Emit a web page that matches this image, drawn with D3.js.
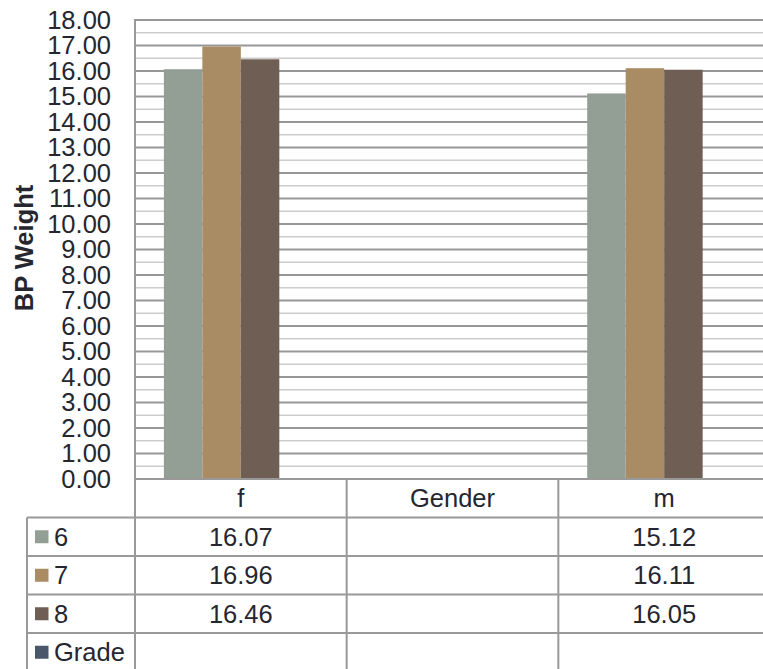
<!DOCTYPE html>
<html>
<head>
<meta charset="utf-8">
<script src="https://cdn.jsdelivr.net/npm/d3@7/dist/d3.min.js"></script>
<style>
  html, body { margin: 0; padding: 0; background: #ffffff; }
  svg { display: block; }
  text { font-family: "Liberation Sans", Arial, sans-serif; fill: #26262f; }
</style>
</head>
<body>
<svg id="chart" width="763" height="669"></svg>
<script>
// ---- data ----
const categories = ["f", "Gender", "m"];
const seriesNames = ["6", "7", "8", "Grade"];
const values6 = [16.07, null, 15.12];
const values7 = [16.96, null, 16.11];
const values8 = [16.46, null, 16.05];
const valuesGrade = [null, null, null];
const seriesColors = ["#939f95", "#aa8c64", "#6f5e53", "#4a5669"];
const yTicks = [0,1,2,3,4,5,6,7,8,9,10,11,12,13,14,15,16,17,18];
const yTitle = "BP Weight";

const seriesValues = [values6, values7, values8, valuesGrade];

// ---- layout ----
const W = 763, H = 669;
const plotLeft = 135, plotRight = 770, plotTop = 20, plotBottom = 479;
const tableLeft = 27;
const rowH = 38.5;
const fontSize = 25.5;

const svg = d3.select("#chart");

const y = d3.scaleLinear().domain([0, 18]).range([plotBottom, plotTop]);
const x0 = d3.scaleBand().domain(categories).range([plotLeft, plotRight]).paddingInner(0).paddingOuter(0);
const x1 = d3.scaleBand().domain(seriesNames).range([0, x0.bandwidth()]).paddingInner(0).paddingOuter(0.75);

// minor gridlines (half units)
const minor = d3.range(0.5, 18, 1);
svg.append("g").selectAll("line").data(minor).join("line")
  .attr("x1", plotLeft).attr("x2", W)
  .attr("y1", d => y(d)).attr("y2", d => y(d))
  .attr("stroke", "#cccccc").attr("stroke-width", 1.6);

// major gridlines
svg.append("g").selectAll("line").data(yTicks.filter(d => d > 0)).join("line")
  .attr("x1", plotLeft).attr("x2", W)
  .attr("y1", d => y(d)).attr("y2", d => y(d))
  .attr("stroke", "#979797").attr("stroke-width", 1.8);

// bars
const barData = [];
categories.forEach((c, ci) => {
  seriesNames.forEach((s, si) => {
    const v = seriesValues[si][ci];
    if (v != null) barData.push({c, s, v, color: seriesColors[si]});
  });
});
svg.append("g").selectAll("rect").data(barData).join("rect")
  .attr("x", d => x0(d.c) + x1(d.s))
  .attr("width", x1.bandwidth())
  .attr("y", d => y(d.v))
  .attr("height", d => y(0) - y(d.v))
  .attr("fill", d => d.color);

// y axis labels
const yAxis = d3.axisLeft(y).tickValues(yTicks).tickFormat(d3.format(".2f")).tickSize(0).tickPadding(24);
const gy = svg.append("g").attr("transform", `translate(${plotLeft},0)`).call(yAxis);
gy.attr("font-size", fontSize).attr("font-family", "'Liberation Sans', Arial, sans-serif");
gy.select(".domain").remove();
gy.selectAll("text")
  .attr("font-size", fontSize)
  .attr("fill", "#26262f");

// y title
svg.append("text")
  .attr("transform", `translate(33,248) rotate(-90)`)
  .attr("text-anchor", "middle")
  .attr("font-size", 25.5)
  .attr("font-weight", "bold")
  .text(yTitle);

// ---- table ----
const tableTop = plotBottom;
const rows = seriesNames.length;
const lineColor = "#999999";
const lw = 2;

const hLines = [];
hLines.push({y: tableTop, x1: plotLeft});
for (let r = 0; r <= rows; r++) hLines.push({y: tableTop + rowH * (r + 1), x1: tableLeft});
svg.append("g").selectAll("line").data(hLines).join("line")
  .attr("x1", d => d.x1).attr("x2", W)
  .attr("y1", d => d.y).attr("y2", d => d.y)
  .attr("stroke", lineColor).attr("stroke-width", lw);

const vLines = [
  {x: plotLeft, y1: plotTop - 1, y2: H},
  {x: tableLeft, y1: tableTop + rowH, y2: H}
];
categories.forEach((c, i) => { if (i > 0) vLines.push({x: x0(c), y1: tableTop, y2: H}); });
svg.append("g").selectAll("line").data(vLines).join("line")
  .attr("x1", d => d.x).attr("x2", d => d.x)
  .attr("y1", d => d.y1).attr("y2", d => d.y2)
  .attr("stroke", lineColor).attr("stroke-width", lw);

svg.append("g").selectAll("text").data(categories).join("text")
  .attr("x", d => x0(d) + x0.bandwidth() / 2)
  .attr("y", tableTop + rowH / 2)
  .attr("dy", "0.35em")
  .attr("text-anchor", "middle")
  .attr("font-size", fontSize)
  .text(d => d);

seriesNames.forEach((s, si) => {
  const cy = tableTop + rowH * (si + 1) + rowH / 2;
  svg.append("rect").attr("x", 35).attr("y", cy - 6.5).attr("width", 13.5).attr("height", 13)
    .attr("fill", seriesColors[si]);
  svg.append("text").attr("x", 54).attr("y", cy).attr("dy", "0.35em")
    .attr("font-size", fontSize).text(s);
  categories.forEach((c, ci) => {
    const v = seriesValues[si][ci];
    if (v != null) {
      svg.append("text")
        .attr("x", x0(c) + x0.bandwidth() / 2)
        .attr("y", cy).attr("dy", "0.35em")
        .attr("text-anchor", "middle")
        .attr("font-size", fontSize)
        .text(d3.format(".2f")(v));
    }
  });
});
</script>
</body>
</html>
